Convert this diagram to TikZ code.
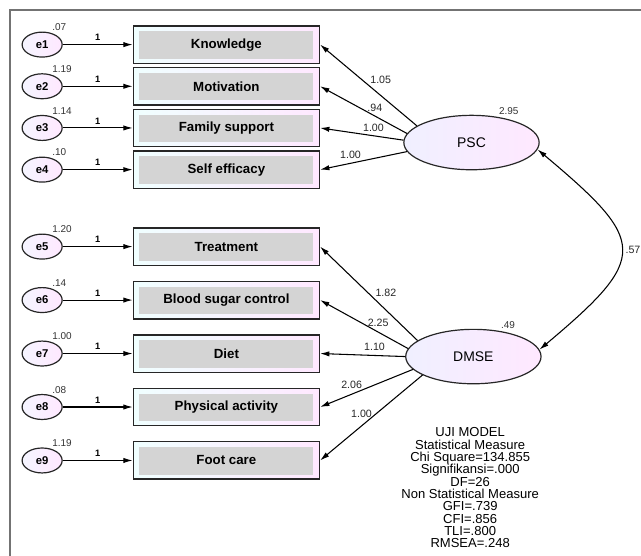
\documentclass[tikz,border=0pt]{standalone}
\usepackage{fontspec}
\setmainfont{Liberation Sans}
\usepackage{tikz}
\usetikzlibrary{shapes.geometric, arrows.meta, positioning, calc}

\begin{document}
\begin{tikzpicture}[
      ind/.style   ={rectangle, draw=black!85, line width=1.1pt, left color=cyan!6, right color=magenta!9,
                     minimum width=4.92cm, minimum height=0.99cm, font=\bfseries\fontsize{10}{12}\selectfont,
                     path picture={\fill[black!17] ([shift={(4.5pt,3.5pt)}]path picture bounding box.south west)
                                   rectangle ([shift={(-4.5pt,-4pt)}]path picture bounding box.north east);}},
      err/.style   ={ellipse, draw=black!85, line width=0.9pt, left color=blue!4, right color=magenta!9,
                     minimum width=1.06cm, minimum height=0.66cm, inner sep=0pt, font=\bfseries\fontsize{8.5}{10}\selectfont},
      latent/.style={ellipse, draw=black!85, line width=0.9pt, left color=blue!6, right color=magenta!9,
                     minimum width=3.58cm, minimum height=1.44cm, font=\fontsize{10.5}{12}\selectfont},
      var/.style   ={font=\fontsize{7.5}{8}\selectfont, text=black!80, inner sep=1pt},
      coef/.style  ={font=\fontsize{8}{9}\selectfont, text=black!85, inner sep=1pt},
      one/.style   ={font=\bfseries\fontsize{7}{8}\selectfont, inner sep=1pt},
      frameline/.style={draw=black!55, line width=1.1pt},
      >={Latex[length=7pt,width=4pt]},
      every path/.append style={line width=0.8pt}
    ]
    \useasboundingbox (0,0) rectangle (16.96,-14.685);
    \draw[frameline] (0.265,-15) |- (17.5,-0.265);

    % Indikatorer PSC
    \node[ind] (KN) at (5.99,-1.18) {Knowledge};
    \node[ind, below=0.074cm of KN] (MO) {Motivation};
    \node[ind, below=0.074cm of MO] (FS) {Family support};
    \node[ind, below=0.074cm of FS] (SE) {Self efficacy};

    % Indikatorer DMSE
    \node[ind, below=1.008cm of SE] (TR) {Treatment};
    \node[ind, below=0.386cm of TR] (BS) {Blood sugar control};
    \node[ind, below=0.386cm of BS] (DI) {Diet};
    \node[ind, below=0.386cm of DI] (PA) {Physical activity};
    \node[ind, below=0.386cm of PA] (FC) {Foot care};

    % Feilledd
    \node[err, left=1.85cm of KN, label={[var]55:.07}]  (e1) {e1};
    \node[err, left=1.85cm of MO, label={[var]55:1.19}] (e2) {e2};
    \node[err, left=1.85cm of FS, label={[var]55:1.14}] (e3) {e3};
    \node[err, left=1.85cm of SE, label={[var]55:.10}]  (e4) {e4};
    \node[err, left=1.85cm of TR, label={[var]55:1.20}] (e5) {e5};
    \node[err, left=1.85cm of BS, label={[var]55:.14}]  (e6) {e6};
    \node[err, left=1.85cm of DI, label={[var]55:1.00}] (e7) {e7};
    \node[err, left=1.85cm of PA, label={[var]55:.08}]  (e8) {e8};
    \node[err, left=1.85cm of FC, label={[var]55:1.19}] (e9) {e9};
    \draw[->] (e1) -- node[one, above=1.5pt] {1} (KN);
    \draw[->] (e2) -- node[one, above=1.5pt] {1} (MO);
    \draw[->] (e3) -- node[one, above=1.5pt] {1} (FS);
    \draw[->] (e4) -- node[one, above=1.5pt] {1} (SE);
    \draw[->] (e5) -- node[one, above=1.5pt] {1} (TR);
    \draw[->] (e6) -- node[one, above=1.5pt] {1} (BS);
    \draw[->] (e7) -- node[one, above=1.5pt] {1} (DI);
    \draw[->] (e8) -- node[one, above=1.5pt] {1} (PA);
    \draw[->] (e9) -- node[one, above=1.5pt] {1} (FC);

    % Latente variabler
    \node[latent, right=2.2cm of $(FS.east)!0.35!(SE.east)$, label={[var]45:2.95}] (PSC) {PSC};
    \node[latent, right=2.25cm of DI, yshift=-0.08cm, label={[var]45:.49}] (DMSE) {DMSE};

    % Ladninger PSC
    \draw[->] (PSC.163) -- node[coef, pos=0.5, above right] {1.05} (KN.east);
    \draw[->] (PSC.172) -- node[coef, pos=0.37, above=2pt] {.94} (MO.east);
    \draw[->] (PSC.178) -- node[coef, pos=0.36, above=2pt] {1.00} (FS.east);
    \draw[->] (PSC.188) -- node[coef, pos=0.65, above=2pt] {1.00} (SE.east);

    % Ladninger DMSE
    \draw[->] (DMSE.164) -- node[coef, pos=0.45, above right] {1.82} (TR.east);
    \draw[->] (DMSE.173) -- node[coef, pos=0.34, above=3pt] {2.25} (BS.east);
    \draw[->] (DMSE.180) -- node[coef, pos=0.36, above=2pt] {1.10} (DI.east);
    \draw[->] (DMSE.192) -- node[coef, pos=0.66, above=3pt] {2.06} (PA.east);
    \draw[->] (DMSE.200) -- node[coef, pos=0.45, left=2pt] {1.00} (FC.east);

    % Kovarians
    \draw[<->] (PSC.-6) .. controls +(-40:3.8cm) and +(40:3.8cm) .. node[coef, right=2pt] {.57} (DMSE.6);

    % Modelltilpasning
    \node[align=center, inner sep=0pt, anchor=north, font=\fontsize{9.8}{9.3}\selectfont] (GOF) at (12.44,-11.3)
      {UJI MODEL\\Statistical Measure\\Chi Square=134.855\\Signifikansi=.000\\DF=26\\
       Non Statistical Measure\\GFI=.739\\CFI=.856\\TLI=.800\\RMSEA=.248};

  \end{tikzpicture}
\end{document}
